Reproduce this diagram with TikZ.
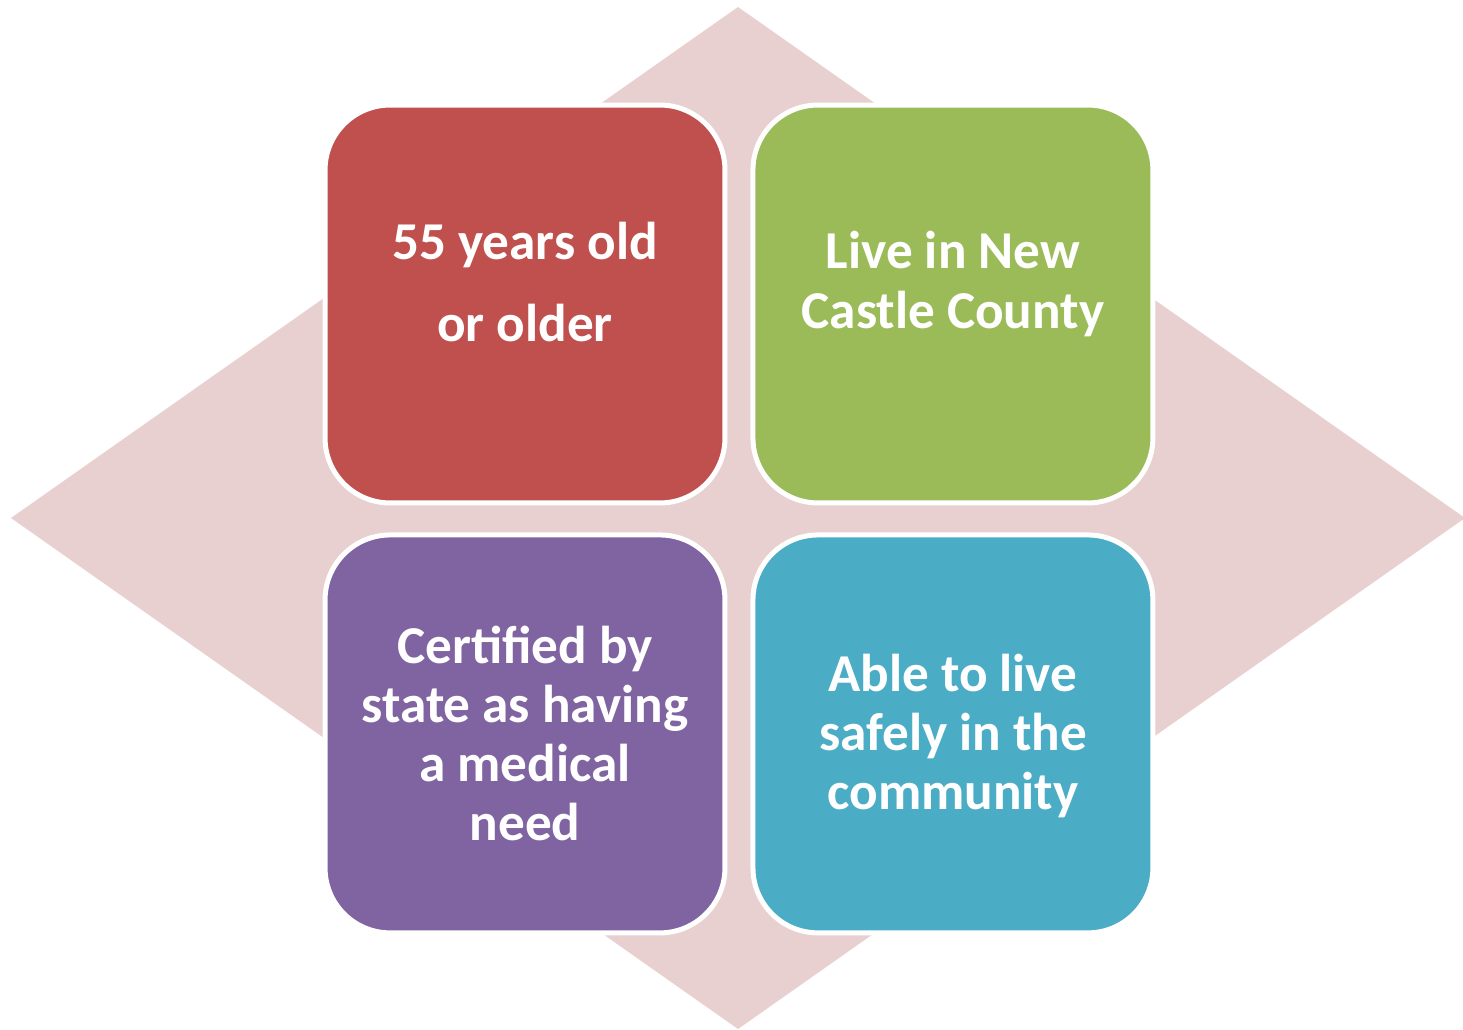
\documentclass[tikz,border=0pt]{standalone}
\usepackage{fontspec}
\setmainfont{Carlito}
\usepackage{tikz}
\usetikzlibrary{positioning}

\definecolor{diamondpink}{HTML}{E8D0D0}
\definecolor{boxred}{HTML}{C0504D}
\definecolor{boxgreen}{HTML}{9BBB59}
\definecolor{boxpurple}{HTML}{8064A2}
\definecolor{boxblue}{HTML}{4BACC6}

\tikzset{
	card/.style={draw=white,line width=0.1cm,rounded corners=1.3cm,
		minimum width=8cm,minimum height=7.96cm,inner sep=0pt},
	cardtext/.style={text=white,align=center,
		font=\fontsize{30.3}{33.6}\selectfont\bfseries}
}

\begin{document}
\begin{tikzpicture}[x=0.02cm,y=-0.02cm]
	\useasboundingbox (0,0) rectangle (1463,1030);
	% background diamond
	\fill[diamondpink] (738,7) -- (1465,518) -- (738,1029) -- (11,518) -- cycle;
	% the four cards
	\node[card,fill=boxred] (age) at (525,304) {};
	\node[card,fill=boxgreen,right=0.46cm of age] (county) {};
	\node[card,fill=boxpurple,below=0.54cm of age] (medical) {};
	\node[card,fill=boxblue,right=0.46cm of medical] (safe) {};
	% texts
	\node[cardtext] (agetxt) at ([yshift=0.44cm]age.center) {55 years old\\[0.44cm] or older};
	\node[cardtext] (countytxt) at ([yshift=0.4cm]county.center) {Live in New\\ Castle County};
	\node[cardtext] (medicaltxt) at (medical.center) {Certified by\\ state as having\\ a medical\\ need};
	\node[cardtext] (safetxt) at ([yshift=-0.04cm]safe.center) {Able to live\\ safely in the\\ community};
\end{tikzpicture}
\end{document}
